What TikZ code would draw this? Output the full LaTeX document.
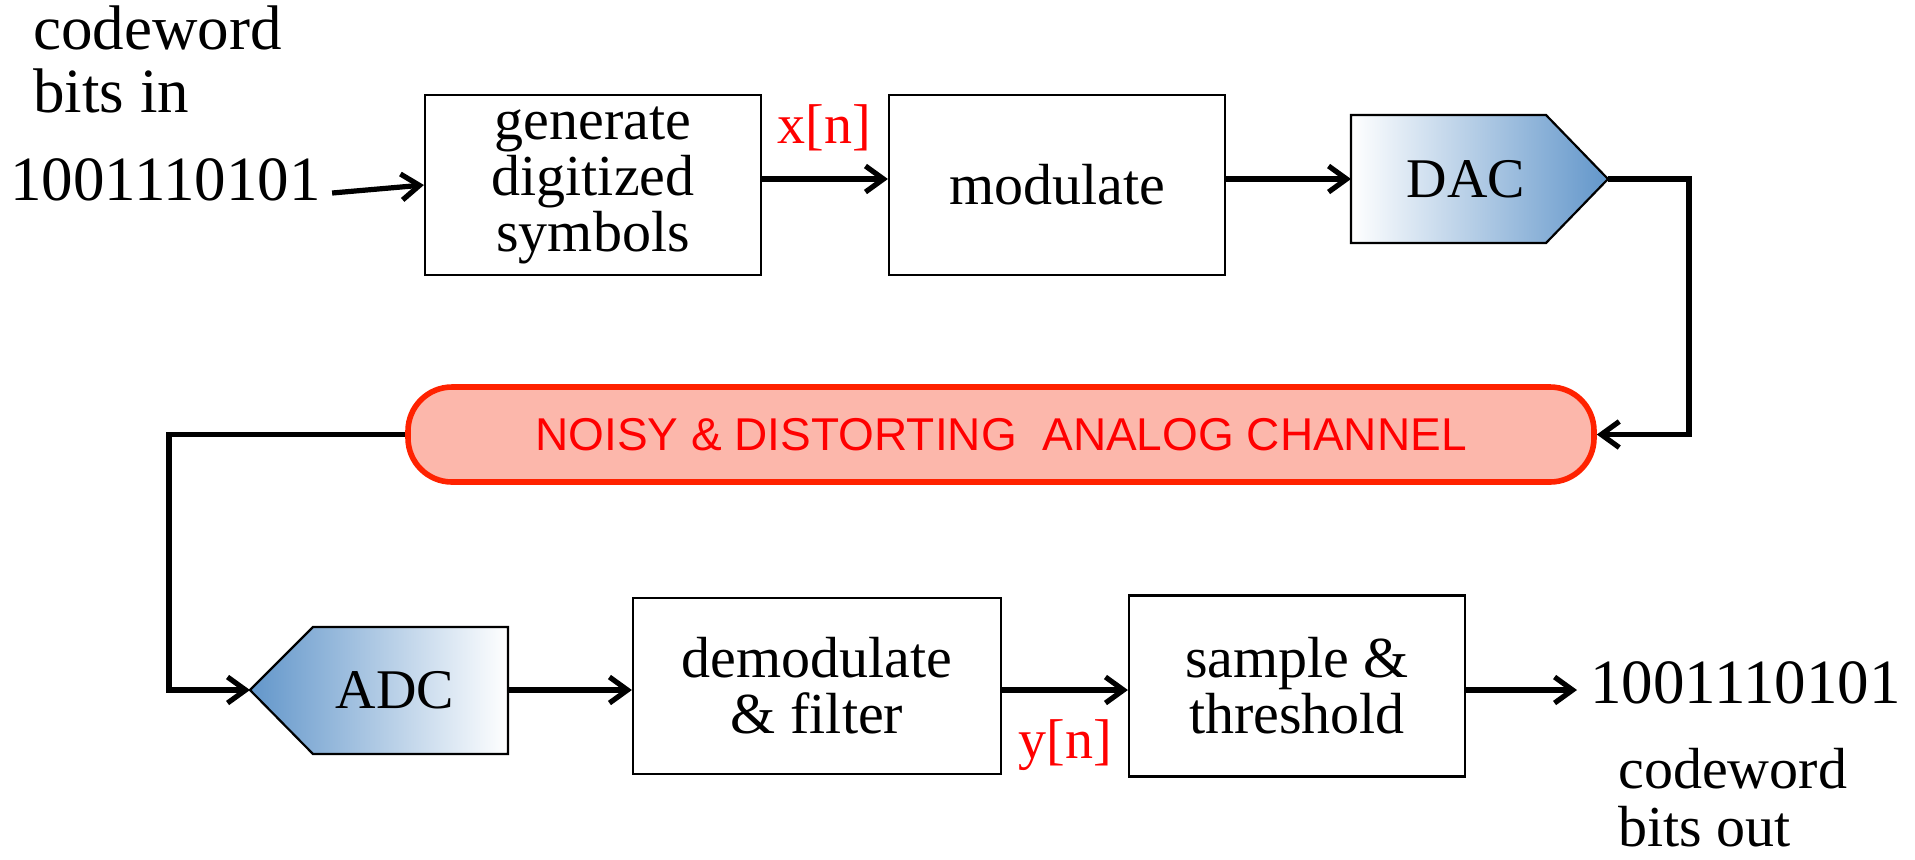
\documentclass[tikz,border=0pt]{standalone}
\usepackage{fontspec}
\setmainfont{Liberation Serif}
\newfontfamily\chanfont{Liberation Sans}
\usetikzlibrary{arrows.meta,calc}
\definecolor{dacblue}{RGB}{98,150,202}
\definecolor{chanfill}{RGB}{252,183,171}
\definecolor{chanedge}{RGB}{255,34,0}
\definecolor{lblred}{RGB}{255,0,0}
\begin{document}
\begin{tikzpicture}[x=0.5pt,y=-0.5pt,
  blk/.style={draw, line width=1.1pt, minimum width=168pt, minimum height=90pt, inner sep=0pt, align=center, font=\fontsize{29}{28}\selectfont},
  conn/.style={line width=2.6pt, -{Straight Barb[length=9pt,width=13pt]}},
  big/.style={font=\fontsize{31.5}{31.5}\selectfont, inner sep=0pt},
  lbl/.style={text=lblred, font=\fontsize{28}{28}\selectfont, inner sep=0pt},
  conv/.style={draw, line width=1.1pt},
  convtext/.style={font=\fontsize{28}{28}\selectfont, inner sep=0pt},
  chanbox/.style={draw=chanedge, fill=chanfill, line width=2.8pt, rounded corners=22pt, minimum width=593pt, minimum height=47.5pt, text=lblred, font=\chanfont\fontsize{23}{23}\selectfont}]
\useasboundingbox (0,0) rectangle (1915,859);

% texts at the ends
\node[big, anchor=north west, align=left] (inlbl) at (33,5) {codeword\\bits in};
\node[big, anchor=base west] (bitsin) at (10,200) {1001110101};
\node[big, anchor=base west] (bitsout) at (1590,703) {1001110101};
\node[font=\fontsize{29}{29}\selectfont, inner sep=0pt, anchor=north west, align=left] (outlbl) at (1618,748) {codeword\\bits out};

% blocks
\node[blk] (gen) at (593,185) {generate\\digitized\\symbols};
\node[blk] (mod) at (1057,185) {modulate};
\node[blk, minimum width=184pt, minimum height=88pt] (demod) at (817,686) {demodulate\\\& filter};
\node[blk, minimum height=90.5pt] (samp) at (1297,686) {sample \&\\threshold};

% DAC
\coordinate (dacL) at (1351,179);
\coordinate (dacR) at (1608,179);
\shadedraw[conv, left color=white, right color=dacblue] (1351,115) -- (1546,115) -- (dacR) -- (1546,243) -- (1351,243) -- cycle;
\node[convtext] (dac) at (1466,179) {DAC};

% ADC
\coordinate (adcL) at (250,690);
\coordinate (adcR) at (508,690);
\shadedraw[conv, left color=dacblue, right color=white] (adcL) -- (313,627) -- (508,627) -- (508,754) -- (313,754) -- cycle;
\node[convtext] (adc) at (395,690) {ADC};

% channel
\node[chanbox] (chan) at (1001,434.5) {NOISY \& DISTORTING\ \ ANALOG CHANNEL};

% labels
\node[lbl, anchor=base] (xn) at (824,143) {x[n]};
\node[lbl, anchor=base] (yn) at (1065,758) {y[n]};

% connectors
\coordinate (turnR) at (1689,434.5);
\coordinate (turnL) at (169,434.5);
\draw[conn] ($(bitsin.base east)+(11,-7)$) -- (gen.west);
\draw[conn] (gen.east |- dacR) -- (mod.west |- dacR);
\draw[conn] (mod.east |- dacR) -- (dacL);
\draw[conn] (dacR) -| (turnR) -- (chan.east);
\draw[conn] (chan.west) -- (turnL) |- (adcL);
\draw[conn] (adcR) -- (demod.west |- adcR);
\draw[conn] (demod.east |- adcR) -- (samp.west |- adcR);
\draw[conn] (samp.east |- adcR) -- ($(bitsout.west |- adcR)+(-13,0)$);
\end{tikzpicture}
\end{document}
